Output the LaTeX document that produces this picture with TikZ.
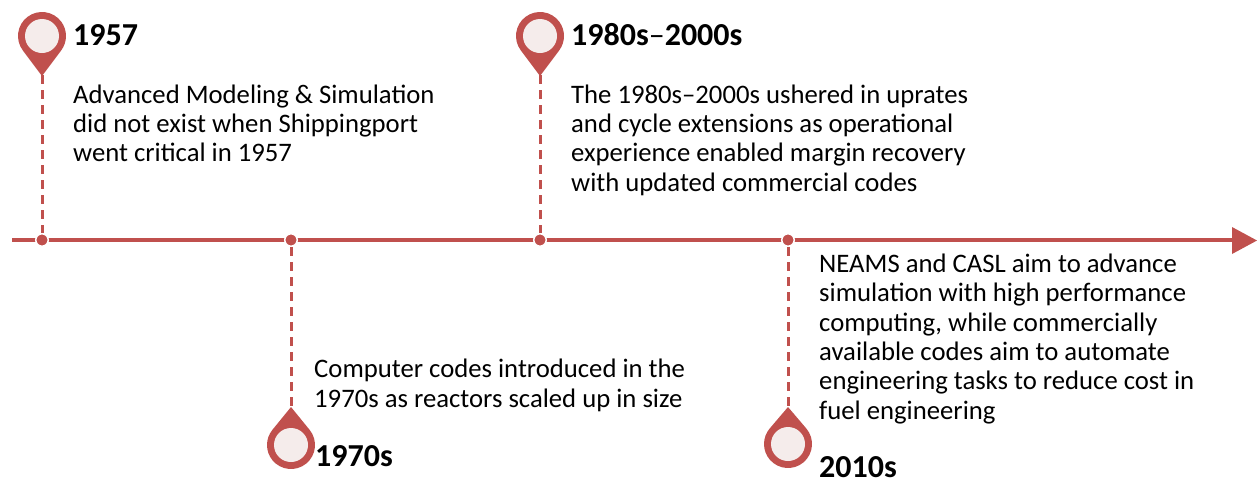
\documentclass[tikz,border=0pt]{standalone}
\usepackage{fontspec}
\setmainfont{Carlito}
\definecolor{pinred}{HTML}{C0504D}
\definecolor{pinfill}{HTML}{F5ECEB}
\tikzset{x=1pt,y=1pt,
 bodytext/.style={anchor=base west,inner sep=0pt,align=left,font=\fontsize{26.7}{29.3}\selectfont},
 titletext/.style={anchor=base west,inner sep=0pt,font=\fontsize{32}{36}\selectfont\bfseries},
 stem/.style={draw=pinred,line width=3pt,dash pattern=on 9pt off 6pt},
 dotmark/.style={circle,fill=pinred,draw=white,line width=1.5pt,minimum size=12.5pt,inner sep=0pt},
 pinhead/.style={fill=pinred},
 pineye/.style={circle,fill=pinfill,inner sep=0pt,minimum size=34pt},
 axisline/.style={draw=pinred,line width=4pt},
}
\newcommand{\pinmark}[5]{% name, x, y, rotation, tip distance
 \pgfmathsetmacro{\pinang}{acos(24/#5)}
 \fill[pinhead,shift={(#2,#3)},rotate=#4] (0,-#5) -- (-90-\pinang:24) arc[start angle=-90-\pinang,delta angle=-360+2*\pinang,radius=24] -- cycle;
 \node[pineye] (#1) at (#2,#3) {};
 \coordinate (#1tip) at ([shift={(#4-90:#5-1)}]#2,#3);
}
\begin{document}
\begin{tikzpicture}
\useasboundingbox (0,-480) rectangle (1257,0);
\coordinate (axisstart) at (12,-240);
\coordinate (axisend) at (1233,-240);
\draw[axisline] (axisstart) -- (axisend);
\fill[pinred] (1232,-227) -- (1257,-240.5) -- (1232,-254) -- cycle;
\node[dotmark] (d1) at (42,-240) {};
\node[dotmark] (d2) at (291,-240) {};
\node[dotmark] (d3) at (540,-240) {};
\node[dotmark] (d4) at (788,-240) {};
\pinmark{p1}{42}{-36}{0}{40}
\pinmark{p2}{291}{-445}{180}{38}
\pinmark{p3}{540}{-36}{0}{40}
\pinmark{p4}{788}{-444}{180}{37}
\draw[stem] (p1tip) -- (d1);
\draw[stem] (d2) -- (p2tip);
\draw[stem] (p3tip) -- (d3);
\draw[stem] (d4) -- (p4tip);
\node[titletext] (t1) at (73,-45) {1957};
\node[titletext] (t2) at (315,-466) {1970s};
\node[titletext] (t3) at (571,-45) {1980s{\mdseries –}2000s};
\node[titletext] (t4) at (819,-477) {2010s};
\node[bodytext] (b1) at (73,-161.6) {Advanced Modeling \& Simulation\\did not exist when Shippingport\\went critical in 1957};
\node[bodytext] (b2) at (314,-407) {Computer codes introduced in the\\1970s as reactors scaled up in size};
\node[bodytext] (b3) at (571,-191) {The 1980s–2000s ushered in uprates\\and cycle extensions as operational\\experience enabled margin recovery\\with updated commercial codes};
\node[bodytext] (b4) at (819,-419) {NEAMS and CASL aim to advance\\simulation with high performance\\computing, while commercially\\available codes aim to automate\\engineering tasks to reduce cost in\\fuel engineering};
\end{tikzpicture}
\end{document}
